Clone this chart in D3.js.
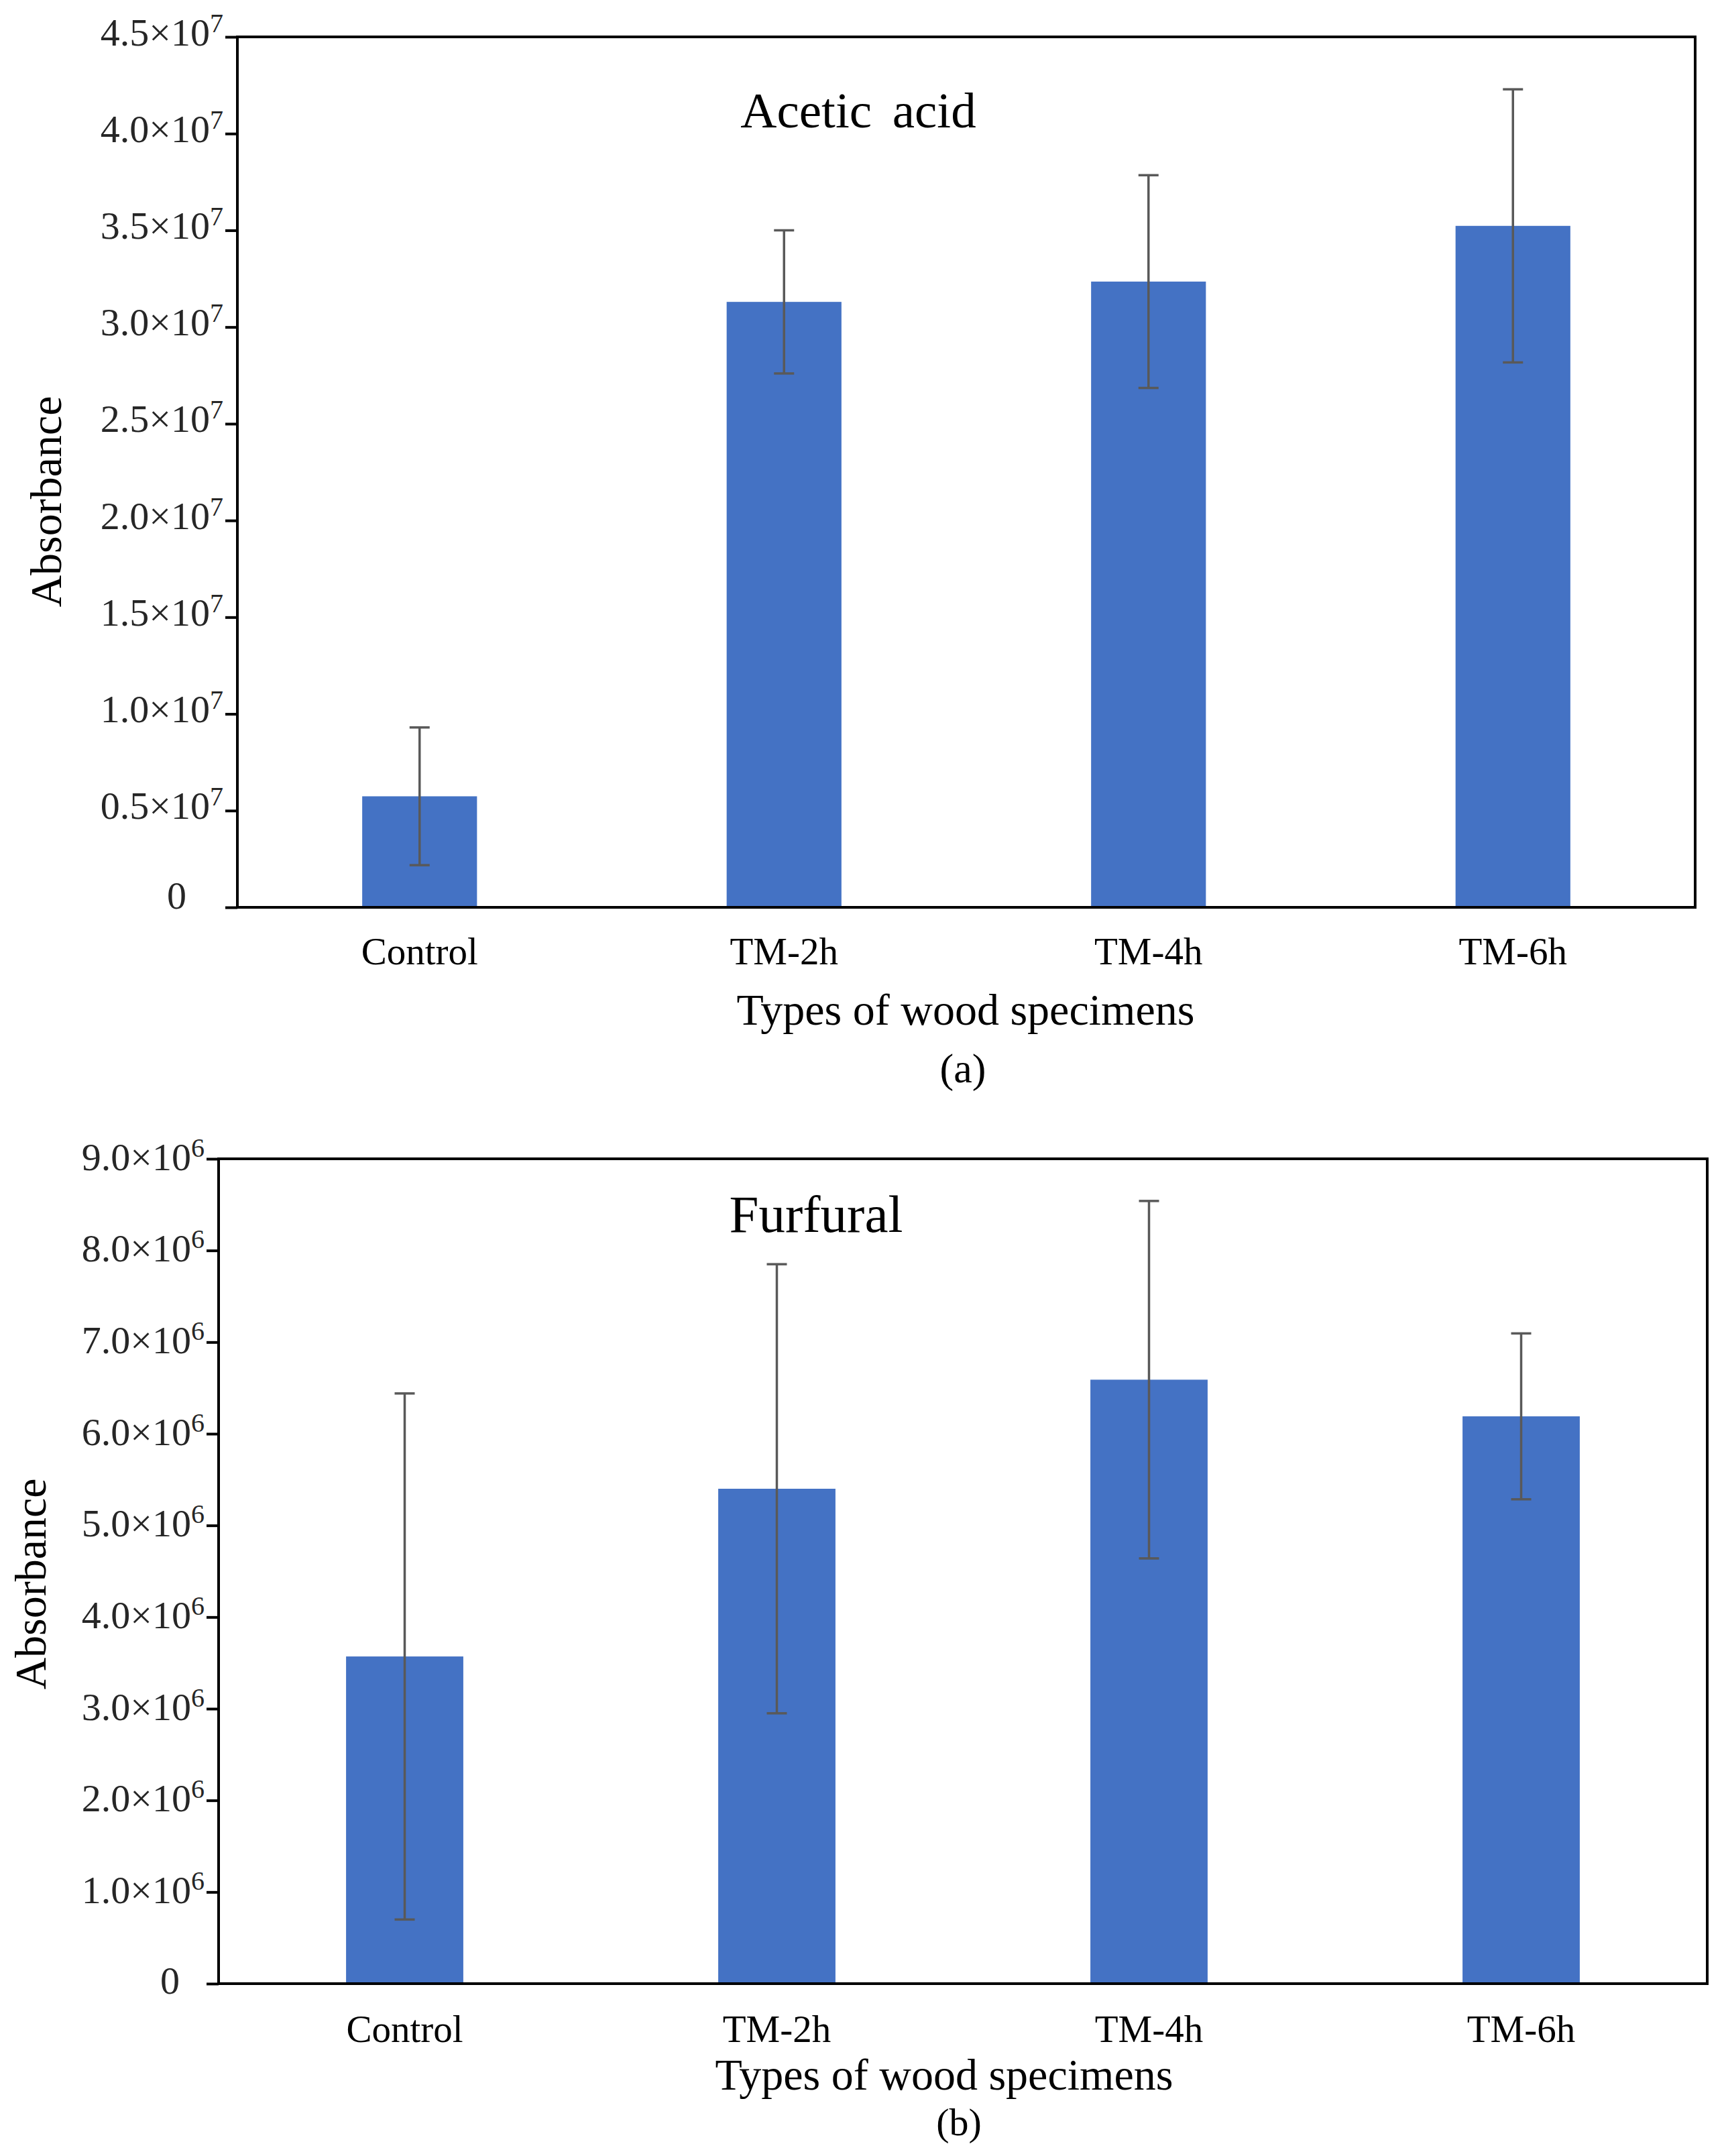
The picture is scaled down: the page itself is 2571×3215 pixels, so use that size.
<!DOCTYPE html>
<html>
<head>
<meta charset="utf-8">
<script src="https://cdn.jsdelivr.net/npm/d3@7"></script>
<style>
  body { margin: 0; background: #fff; }
  text { font-family: "Liberation Serif", "Times New Roman", serif; }
</style>
</head>
<body>
<div id="chart"></div>
<script>
// data
var categories = ["Control", "TM-2h", "TM-4h", "TM-6h"];

var aceticValues = [0.574e7, 3.13e7, 3.235e7, 3.523e7];
var aceticErrors = [0.356e7, 0.37e7, 0.55e7, 0.706e7];
var aceticTicks = [0, 0.5e7, 1.0e7, 1.5e7, 2.0e7, 2.5e7, 3.0e7, 3.5e7, 4.0e7, 4.5e7];
var aceticTickLabels = ["0", "0.5×10|7", "1.0×10|7", "1.5×10|7", "2.0×10|7", "2.5×10|7", "3.0×10|7", "3.5×10|7", "4.0×10|7", "4.5×10|7"];

var furfuralValues = [3.57e6, 5.40e6, 6.59e6, 6.19e6];
var furfuralErrors = [2.87e6, 2.45e6, 1.95e6, 0.905e6];
var furfuralTicks = [0, 1e6, 2e6, 3e6, 4e6, 5e6, 6e6, 7e6, 8e6, 9e6];
var furfuralTickLabels = ["0", "1.0×10|6", "2.0×10|6", "3.0×10|6", "4.0×10|6", "5.0×10|6", "6.0×10|6", "7.0×10|6", "8.0×10|6", "9.0×10|6"];

var barColor = "#4472C4";
var errColor = "#595959";

var svg = d3.select("#chart")
    .append("svg")
    .attr("width", 2571)
    .attr("height", 3215);

svg.append("rect").attr("width", 2571).attr("height", 3215).attr("fill", "#fff");

// panel (a)
drawPanel(svg, {
    left: 354, right: 2528, top: 55, bottom: 1353,
    values: aceticValues, errors: aceticErrors,
    ticks: aceticTicks, tickLabels: aceticTickLabels,
    title: "Acetic acid", titleX: 1280, titleY: 190, titleSize: 75,
    ytitleX: 91, ytitleY: 748,
    xlabelY: 1438, xtitleY: 1528, xtitleX: 1440,
    tag: "(a)", tagX: 1436, tagY: 1614, tagSize: 62,
    labelDy: 12, zeroX: -76, zeroDy: 1
});

// panel (b)
drawPanel(svg, {
    left: 326, right: 2546, top: 1728, bottom: 2958,
    values: furfuralValues, errors: furfuralErrors,
    ticks: furfuralTicks, tickLabels: furfuralTickLabels,
    title: "Furfural", titleX: 1217, titleY: 1837, titleSize: 79,
    ytitleX: 68, ytitleY: 2362,
    xlabelY: 3045, xtitleY: 3116, xtitleX: 1408,
    tag: "(b)", tagX: 1430, tagY: 3184, tagSize: 58,
    labelDy: 16, zeroX: -58, zeroDy: 14
});

function drawPanel(svg, p) {
    var width = p.right - p.left,
        height = p.bottom - p.top;

    var g = svg.append("g")
        .attr("transform", "translate(" + p.left + "," + p.top + ")");

    var x = d3.scaleBand()
        .domain(categories)
        .range([0, width])
        .paddingInner(0.685)
        .paddingOuter(0.3425);

    var y = d3.scaleLinear()
        .domain([0, p.ticks[p.ticks.length - 1]])
        .range([height, 0]);

    // bars
    g.selectAll(".bar")
        .data(p.values)
        .enter()
        .append("rect")
        .attr("x", function (d, i) { return x(categories[i]); })
        .attr("y", function (d) { return y(d); })
        .attr("width", x.bandwidth())
        .attr("height", function (d) { return height - y(d); })
        .attr("fill", barColor);

    // error bars
    var cx = function (i) { return x(categories[i]) + x.bandwidth() / 2; };
    var err = g.selectAll(".err")
        .data(p.values)
        .enter()
        .append("g")
        .attr("stroke", errColor)
        .attr("stroke-width", 3.5);
    err.append("line")
        .attr("x1", function (d, i) { return cx(i); })
        .attr("x2", function (d, i) { return cx(i); })
        .attr("y1", function (d, i) { return y(d + p.errors[i]); })
        .attr("y2", function (d, i) { return y(d - p.errors[i]); });
    err.append("line")
        .attr("x1", function (d, i) { return cx(i) - 15; })
        .attr("x2", function (d, i) { return cx(i) + 15; })
        .attr("y1", function (d, i) { return y(d + p.errors[i]); })
        .attr("y2", function (d, i) { return y(d + p.errors[i]); });
    err.append("line")
        .attr("x1", function (d, i) { return cx(i) - 15; })
        .attr("x2", function (d, i) { return cx(i) + 15; })
        .attr("y1", function (d, i) { return y(d - p.errors[i]); })
        .attr("y2", function (d, i) { return y(d - p.errors[i]); });

    // Y axis
    var yAxis = g.append("g")
        .call(d3.axisLeft(y).tickValues(p.ticks).tickSize(18).tickPadding(3)
            .tickFormat(function (d, i) { return p.tickLabels[i]; }));
    yAxis.select(".domain").remove();
    yAxis.selectAll(".tick line").attr("stroke", "#000").attr("stroke-width", 4);
    yAxis.selectAll(".tick text")
        .attr("fill", "#262626")
        .attr("font-size", 58)
        .attr("dy", null)
        .each(function (d, i) {
            var t = d3.select(this);
            var parts = p.tickLabels[i].split("|");
            t.text(null);
            if (parts.length == 1) {
                t.attr("x", p.zeroX).attr("y", p.zeroDy).text(parts[0]);
                return;
            }
            t.attr("y", p.labelDy);
            t.append("tspan").text(parts[0]);
            t.append("tspan").attr("dy", -20).attr("font-size", 40).text(parts[1]);
        });

    // X labels
    g.selectAll(".xlabel")
        .data(categories)
        .enter()
        .append("text")
        .attr("x", function (d) { return x(d) + x.bandwidth() / 2; })
        .attr("y", p.xlabelY - p.top)
        .attr("text-anchor", "middle")
        .attr("font-size", 57)
        .attr("fill", "#000")
        .text(function (d) { return d; });

    // frame
    g.append("rect")
        .attr("width", width)
        .attr("height", height)
        .attr("fill", "none")
        .attr("stroke", "#000")
        .attr("stroke-width", 4);

    // titles
    svg.append("text")
        .attr("x", p.titleX)
        .attr("y", p.titleY)
        .attr("text-anchor", "middle")
        .attr("font-size", p.titleSize)
        .attr("word-spacing", 12)
        .text(p.title);

    svg.append("text")
        .attr("transform", "translate(" + p.ytitleX + "," + p.ytitleY + ") rotate(-90)")
        .attr("text-anchor", "middle")
        .attr("font-size", 66)
        .text("Absorbance");

    svg.append("text")
        .attr("x", p.xtitleX)
        .attr("y", p.xtitleY)
        .attr("text-anchor", "middle")
        .attr("font-size", 66)
        .text("Types of wood specimens");

    svg.append("text")
        .attr("x", p.tagX)
        .attr("y", p.tagY)
        .attr("text-anchor", "middle")
        .attr("font-size", p.tagSize)
        .text(p.tag);
}
</script>
</body>
</html>
